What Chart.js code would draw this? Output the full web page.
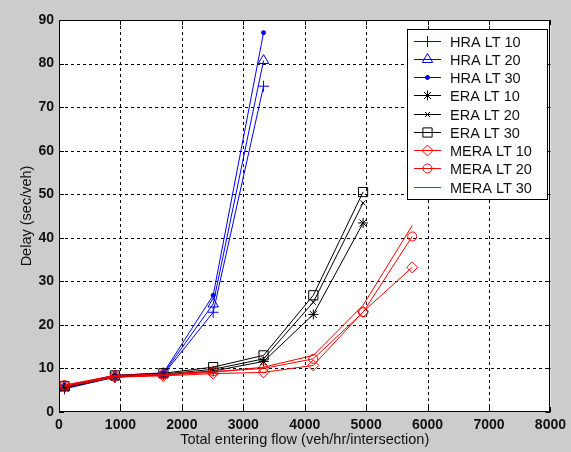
<!DOCTYPE html>
<html>
<head>
<meta charset="utf-8">
<script src="https://cdn.jsdelivr.net/npm/chart.js@4/dist/chart.umd.min.js"></script>
<style>
html,body{margin:0;padding:0;background:#cccccc;}
#wrap{width:571px;height:452px;}
</style>
</head>
<body>
<div id="wrap"><canvas id="c" width="571" height="452"></canvas></div>
<script>
// ---- data ----
const xFlow = [90, 910, 1700, 2510, 3330, 4140, 4950, 5750];
const xTicks = [0, 1000, 2000, 3000, 4000, 5000, 6000, 7000, 8000];
const yTicks = [0, 10, 20, 30, 40, 50, 60, 70, 80, 90];
const seriesNames = ['HRA LT 10','HRA LT 20','HRA LT 30','ERA LT 10','ERA LT 20','ERA LT 30','MERA LT 10','MERA LT 20','MERA LT 30'];
const hraLT10 = [5.3, 8.0, 8.6, 22.9, 74.8];
const hraLT20 = [5.6, 8.2, 8.8, 24.8, 80.7];
const hraLT30 = [5.9, 8.4, 9.0, 26.8, 87.1];
const eraLT10 = [5.5, 8.0, 8.5, 9.4, 11.6, 22.4, 43.4];
const eraLT20 = [5.7, 8.2, 8.7, 9.8, 12.2, 25.2, 48.0];
const eraLT30 = [5.9, 8.4, 8.9, 10.3, 13.0, 26.8, 50.5];
const meraLT10 = [5.8, 8.0, 8.3, 8.8, 9.1, 10.7, 23.0, 33.2];
const meraLT20 = [6.2, 8.4, 8.7, 9.3, 10.0, 12.2, 22.9, 40.3];
const meraLT30 = [6.0, 8.2, 8.5, 9.1, 10.3, 13.0, 24.5, 42.8];

const allValues = [hraLT10, hraLT20, hraLT30, eraLT10, eraLT20, eraLT30, meraLT10, meraLT20, meraLT30];
const styles = [
  {c:'#0000ff', p:'cross',    r:5.5, fill:false},
  {c:'#0000ff', p:'triangle', r:6,   fill:false},
  {c:'#0000ff', p:'circle',   r:2,   fill:true},
  {c:'#000000', p:'star',     r:5,   fill:false},
  {c:'#000000', p:'crossRot', r:3.5, fill:false},
  {c:'#000000', p:'rect',     r:6.5, fill:false},
  {c:'#ff0000', p:'rectRot',  r:5.5, fill:false},
  {c:'#ff0000', p:'circle',   r:4.5, fill:false},
  {c:'#ff0000', p:false,      r:0,   fill:false}
];

const datasets = allValues.map((vals, i) => ({
  label: seriesNames[i],
  data: vals.map((v, j) => ({x: xFlow[j], y: v})),
  showLine: true,
  borderColor: styles[i].c,
  borderWidth: 1,
  pointStyle: styles[i].p,
  pointRadius: styles[i].r,
  pointHoverRadius: styles[i].r,
  pointBorderColor: styles[i].c,
  pointBackgroundColor: styles[i].fill ? styles[i].c : 'rgba(0,0,0,0)',
  pointBorderWidth: 1,
  tension: 0,
  fill: false,
  order: 20 - i
}));

const FONT = "'Liberation Sans', Arial, sans-serif";

const framePlugin = {
  id: 'frame',
  beforeDraw(chart) {
    const {ctx, chartArea: a} = chart;
    ctx.save();
    ctx.fillStyle = '#cccccc';
    ctx.fillRect(0, 0, chart.width, chart.height);
    ctx.fillStyle = '#ffffff';
    ctx.fillRect(a.left, a.top, a.right - a.left, a.bottom - a.top);
    ctx.restore();
  },
  beforeDatasetsDraw(chart) {
    const {ctx, chartArea: a, scales: {x, y}} = chart;
    ctx.save();
    ctx.strokeStyle = '#000';
    ctx.lineWidth = 1;
    ctx.setLineDash([3, 3]);
    xTicks.forEach(t => {
      if (t <= x.min || t >= x.max) return;
      const px = Math.round(x.getPixelForValue(t)) + 0.5;
      ctx.beginPath(); ctx.moveTo(px, a.top); ctx.lineTo(px, a.bottom); ctx.stroke();
    });
    yTicks.forEach(t => {
      if (t <= y.min || t >= y.max) return;
      const py = Math.round(y.getPixelForValue(t)) + 0.5;
      ctx.beginPath(); ctx.moveTo(a.left, py); ctx.lineTo(a.right, py); ctx.stroke();
    });
    ctx.setLineDash([]);
    const tl = 5;
    xTicks.forEach(t => {
      const px = Math.round(x.getPixelForValue(t)) + 0.5;
      ctx.beginPath();
      ctx.moveTo(px, a.bottom); ctx.lineTo(px, a.bottom - tl);
      ctx.moveTo(px, a.top); ctx.lineTo(px, a.top + tl);
      ctx.stroke();
    });
    yTicks.forEach(t => {
      const py = Math.round(y.getPixelForValue(t)) + 0.5;
      ctx.beginPath();
      ctx.moveTo(a.left, py); ctx.lineTo(a.left + tl, py);
      ctx.moveTo(a.right, py); ctx.lineTo(a.right - tl, py);
      ctx.stroke();
    });
    ctx.restore();
  },
  afterDatasetsDraw(chart) {
    const {ctx, chartArea: a} = chart;
    ctx.save();
    ctx.strokeStyle = '#000';
    ctx.lineWidth = 1;
    ctx.strokeRect(Math.round(a.left) + 0.5, Math.round(a.top) + 0.5,
                   Math.round(a.right - a.left) - 1, Math.round(a.bottom - a.top) - 1);
    // legend
    const lx = 407, ly = 29, lw = 140, lh = 170;
    ctx.fillStyle = '#fff';
    ctx.fillRect(lx, ly, lw, lh);
    ctx.strokeRect(lx + 0.5, ly + 0.5, lw, lh);
    ctx.font = '14.5px ' + FONT;
    ctx.textBaseline = 'middle';
    ctx.textAlign = 'left';
    chart.data.datasets.forEach((ds, i) => {
      const yy = Math.round(40.7 + i * 18.25) + 0.5;
      ctx.strokeStyle = ds.borderColor;
      ctx.lineWidth = 1;
      ctx.beginPath(); ctx.moveTo(414, yy); ctx.lineTo(441, yy); ctx.stroke();
      if (ds.pointStyle && Chart.helpers && Chart.helpers.drawPoint) {
        ctx.fillStyle = ds.pointBackgroundColor;
        Chart.helpers.drawPoint(ctx, {pointStyle: ds.pointStyle, radius: ds.pointRadius, rotation: 0, borderWidth: 1}, 427.5, yy);
      }
      ctx.fillStyle = '#111';
      ctx.fillText(ds.label, 450, yy + 1);
    });
    ctx.restore();
  }
};

new Chart(document.getElementById('c'), {
  type: 'scatter',
  data: {datasets},
  plugins: [framePlugin],
  options: {
    responsive: false,
    animation: false,
    events: [],
    layout: {padding: {left: 0, right: 17, top: 20, bottom: 0}},
    plugins: {legend: {display: false}, tooltip: {enabled: false}},
    scales: {
      x: {
        type: 'linear', min: 0, max: 8000,
        afterBuildTicks(s) { s.ticks = xTicks.map(v => ({value: v})); },
        ticks: {autoSkip: false, maxRotation: 0, padding: 5, color: '#111',
                callback: v => String(v),
                font: {family: FONT, size: 14, weight: 'bold'}},
        grid: {display: false, drawTicks: false},
        border: {display: false},
        title: {display: true, text: 'Total entering flow (veh/hr/intersection)', color: '#111',
                font: {family: FONT, size: 14.5}, padding: {top: 0, bottom: 3}},
        afterFit(s) { s.height = 40; }
      },
      y: {
        type: 'linear', min: 0, max: 90,
        afterBuildTicks(s) { s.ticks = yTicks.map(v => ({value: v})); },
        ticks: {autoSkip: false, padding: 5, color: '#111',
                callback: v => String(v),
                font: {family: FONT, size: 14, weight: 'bold'}},
        grid: {display: false, drawTicks: false},
        border: {display: false},
        title: {display: true, text: 'Delay (sec/veh)', color: '#111',
                font: {family: FONT, size: 14.5}, padding: {top: 18, bottom: 0}},
        afterFit(s) { s.width = 59; }
      }
    }
  }
});
</script>
</body>
</html>
